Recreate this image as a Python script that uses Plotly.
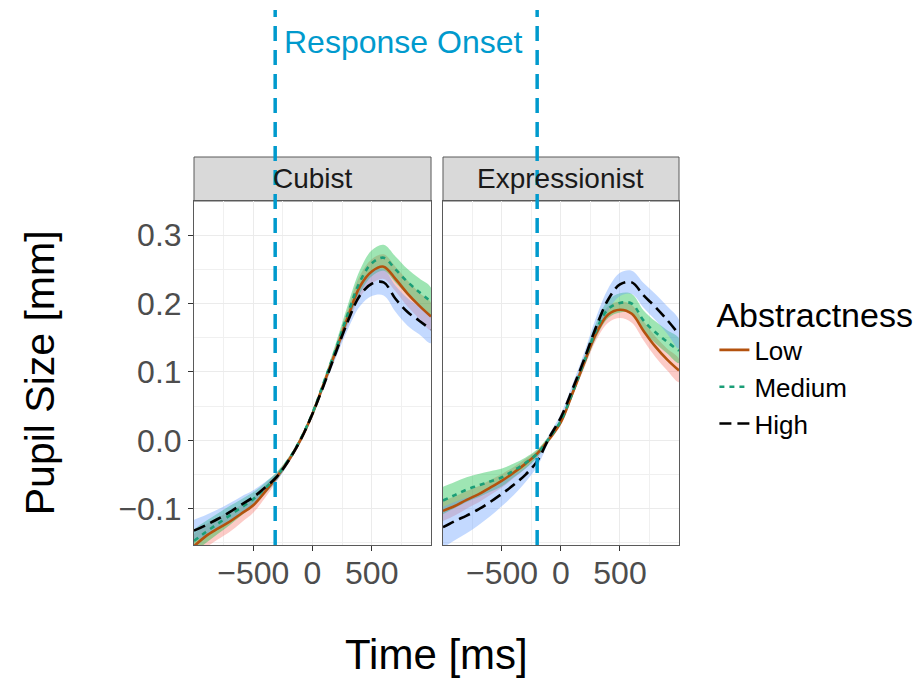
import plotly.graph_objects as go

# ---------------- data ----------------
time_ms = [-1000, -900, -800, -700, -600, -500, -400, -300, -200, -100, 0,
           100, 200, 300, 400, 500, 600, 700, 800, 900, 1000]

panels = ["Cubist", "Expressionist"]
levels = ["Low", "Medium", "High"]

# Cubist
cub_low = [-0.155, -0.140, -0.129, -0.119, -0.107, -0.095, -0.075, -0.053, -0.029, 0.001, 0.039,
           0.085, 0.132, 0.181, 0.225, 0.247, 0.254, 0.236, 0.215, 0.197, 0.181]
cub_med = [-0.147, -0.134, -0.122, -0.110, -0.098, -0.086, -0.070, -0.052, -0.028, 0.002, 0.040,
           0.087, 0.135, 0.186, 0.232, 0.259, 0.267, 0.250, 0.232, 0.217, 0.203]
cub_high = [-0.132, -0.124, -0.115, -0.105, -0.094, -0.083, -0.069, -0.053, -0.029, 0.001, 0.039,
            0.083, 0.130, 0.175, 0.212, 0.229, 0.231, 0.207, 0.188, 0.175, 0.162]
cub_low_se = [0.018, 0.017, 0.016, 0.015, 0.013, 0.011, 0.009, 0.006, 0.004, 0.004, 0.004,
              0.005, 0.008, 0.012, 0.016, 0.018, 0.018, 0.018, 0.019, 0.019, 0.020]
cub_med_se = [0.017, 0.016, 0.015, 0.014, 0.012, 0.010, 0.008, 0.006, 0.004, 0.004, 0.004,
              0.005, 0.009, 0.013, 0.017, 0.019, 0.019, 0.019, 0.019, 0.020, 0.020]
cub_high_se = [0.016, 0.015, 0.014, 0.013, 0.012, 0.010, 0.008, 0.006, 0.004, 0.004, 0.004,
               0.005, 0.008, 0.012, 0.016, 0.018, 0.019, 0.019, 0.020, 0.020, 0.020]

# Expressionist
exp_low = [-0.103, -0.096, -0.087, -0.079, -0.069, -0.059, -0.047, -0.034, -0.019, 0.002, 0.027,
           0.070, 0.115, 0.157, 0.184, 0.191, 0.185, 0.160, 0.137, 0.118, 0.102]
exp_med = [-0.088, -0.080, -0.072, -0.066, -0.060, -0.054, -0.044, -0.033, -0.019, 0.003, 0.029,
           0.071, 0.117, 0.162, 0.192, 0.201, 0.200, 0.175, 0.158, 0.144, 0.131]
exp_high = [-0.127, -0.118, -0.110, -0.101, -0.090, -0.078, -0.065, -0.050, -0.030, 0.004, 0.034,
            0.076, 0.120, 0.167, 0.206, 0.228, 0.231, 0.212, 0.195, 0.176, 0.155]
exp_low_se = [0.015, 0.014, 0.013, 0.012, 0.011, 0.010, 0.008, 0.007, 0.005, 0.004, 0.004,
              0.005, 0.008, 0.010, 0.012, 0.012, 0.013, 0.014, 0.015, 0.016, 0.017]
exp_med_se = [0.020, 0.019, 0.018, 0.017, 0.015, 0.013, 0.010, 0.008, 0.006, 0.004, 0.004,
              0.005, 0.008, 0.011, 0.013, 0.014, 0.014, 0.015, 0.016, 0.017, 0.018]
exp_high_se = [0.030, 0.028, 0.026, 0.023, 0.021, 0.018, 0.015, 0.011, 0.008, 0.005, 0.005,
               0.007, 0.010, 0.014, 0.016, 0.017, 0.017, 0.018, 0.019, 0.020, 0.021]

response_onset = [-315, -202]  # per panel, ms

x_ticks = [-500, 0, 500]
y_ticks = [-0.1, 0.0, 0.1, 0.2, 0.3]

# ---------------- styles ----------------
line_colors = {"Low": "#B4520E", "Medium": "#1B9E77", "High": "#000000"}
line_dash = {"Low": "solid", "Medium": "5px,5px", "High": "12px,6px"}
ribbon_colors = {"Low": "rgba(248,118,109,0.38)", "Medium": "rgba(0,186,56,0.38)",
                 "High": "rgba(97,156,255,0.38)"}
onset_color = "#009ACD"
FONT = "Arial, 'Liberation Sans', sans-serif"

series = {
    "Cubist": {"Low": (cub_low, cub_low_se), "Medium": (cub_med, cub_med_se), "High": (cub_high, cub_high_se)},
    "Expressionist": {"Low": (exp_low, exp_low_se), "Medium": (exp_med, exp_med_se), "High": (exp_high, exp_high_se)},
}

fig = go.Figure()
axis_ids = [("x", "y"), ("x2", "y2")]

for pi, panel in enumerate(panels):
    xa, ya = axis_ids[pi]
    # ribbons
    for lv in levels:
        vals, se = series[panel][lv]
        upper = [v + s for v, s in zip(vals, se)]
        lower = [v - s for v, s in zip(vals, se)]
        fig.add_trace(go.Scatter(
            x=time_ms + time_ms[::-1], y=upper + lower[::-1],
            fill="toself", fillcolor=ribbon_colors[lv], line=dict(width=0, shape="spline"),
            mode="lines", hoverinfo="skip", showlegend=False, xaxis=xa, yaxis=ya))
    # lines
    for lv in levels:
        vals, se = series[panel][lv]
        fig.add_trace(go.Scatter(
            x=time_ms, y=vals, mode="lines", name=lv, legendgroup=lv,
            showlegend=(pi == 0),
            line=dict(color=line_colors[lv], width=2.6, dash=line_dash[lv], shape="spline"),
            xaxis=xa, yaxis=ya))

plot_top = 0.8866
xdom = [[0, 0.4887], [0.5134, 1.0]]

common_x = dict(range=[-1000, 1000], tickvals=x_ticks, ticks="outside", ticklen=5,
                tickcolor="#333333", tickwidth=1.2, ticklabelstandoff=-5,
                showgrid=True, gridcolor="#EBEBEB", gridwidth=1.3,
                minor=dict(dtick=250, tick0=0, showgrid=True, gridcolor="#F0F0F0", gridwidth=0.7),
                showline=True, mirror=True, linecolor="#5A5A5A", linewidth=1,
                zeroline=False, tickfont=dict(size=32, color="#4D4D4D", family=FONT))
common_y = dict(range=[-0.153, 0.350], tickvals=y_ticks, tickformat=".1f", ticks="outside",
                ticklen=5, tickcolor="#333333", tickwidth=1.2,
                showgrid=True, gridcolor="#EBEBEB", gridwidth=1.3,
                minor=dict(dtick=0.05, tick0=0, showgrid=True, gridcolor="#F0F0F0", gridwidth=0.7),
                showline=True, mirror=True, linecolor="#5A5A5A", linewidth=1,
                zeroline=False, tickfont=dict(size=32, color="#4D4D4D", family=FONT),
                domain=[0, plot_top])

fig.update_layout(
    width=922, height=680,
    margin=dict(l=194, r=243, t=157, b=135, autoexpand=False),
    paper_bgcolor="white", plot_bgcolor="white",
    font=dict(family=FONT, color="black"),
    xaxis=dict(common_x, domain=xdom[0], anchor="y"),
    xaxis2=dict(common_x, domain=xdom[1], anchor="y2"),
    yaxis=dict(common_y, anchor="x"),
    yaxis2=dict(common_y, anchor="x2", showticklabels=False, ticks=""),
    legend=dict(title=dict(text="Abstractness", font=dict(size=34, color="black", family=FONT)),
                font=dict(size=26, color="black", family=FONT),
                x=1.073, xanchor="left", y=0.677, yanchor="top",
                bgcolor="rgba(0,0,0,0)", tracegroupgap=0),
)

shapes = []
annotations = []
for pi, panel in enumerate(panels):
    d0, d1 = xdom[pi]
    shapes.append(dict(type="rect", xref="paper", yref="paper", x0=d0, x1=d1,
                       y0=plot_top, y1=1.0, fillcolor="#D9D9D9",
                       line=dict(color="#5A5A5A", width=1), layer="below"))
    annotations.append(dict(text=panel, xref="paper", yref="paper", x=(d0 + d1) / 2,
                            y=(plot_top + 1.0) / 2, showarrow=False, xanchor="center",
                            yanchor="middle", font=dict(size=28, color="#1A1A1A", family=FONT)))
    xa = axis_ids[pi][0]
    shapes.append(dict(type="line", xref=xa, yref="paper", x0=response_onset[pi],
                       x1=response_onset[pi], y0=0, y1=1.379,
                       line=dict(color=onset_color, width=3.5, dash="15px,9px"), layer="above"))

annotations.append(dict(text="Response Onset", xref="paper", yref="paper", x=0.431, y=1.296,
                        showarrow=False, xanchor="center", yanchor="middle",
                        font=dict(size=32, color=onset_color, family=FONT)))
annotations.append(dict(text="Time [ms]", xref="paper", yref="paper", x=0.5, y=-0.283,
                        showarrow=False, xanchor="center", yanchor="middle",
                        font=dict(size=42, color="black", family=FONT)))
annotations.append(dict(text="Pupil Size [mm]", xref="paper", yref="paper", x=-0.317,
                        y=plot_top / 2, showarrow=False, xanchor="center", yanchor="middle",
                        textangle=-90, font=dict(size=41, color="black", family=FONT)))

fig.update_layout(shapes=shapes, annotations=annotations)
fig.write_html("out.html")
